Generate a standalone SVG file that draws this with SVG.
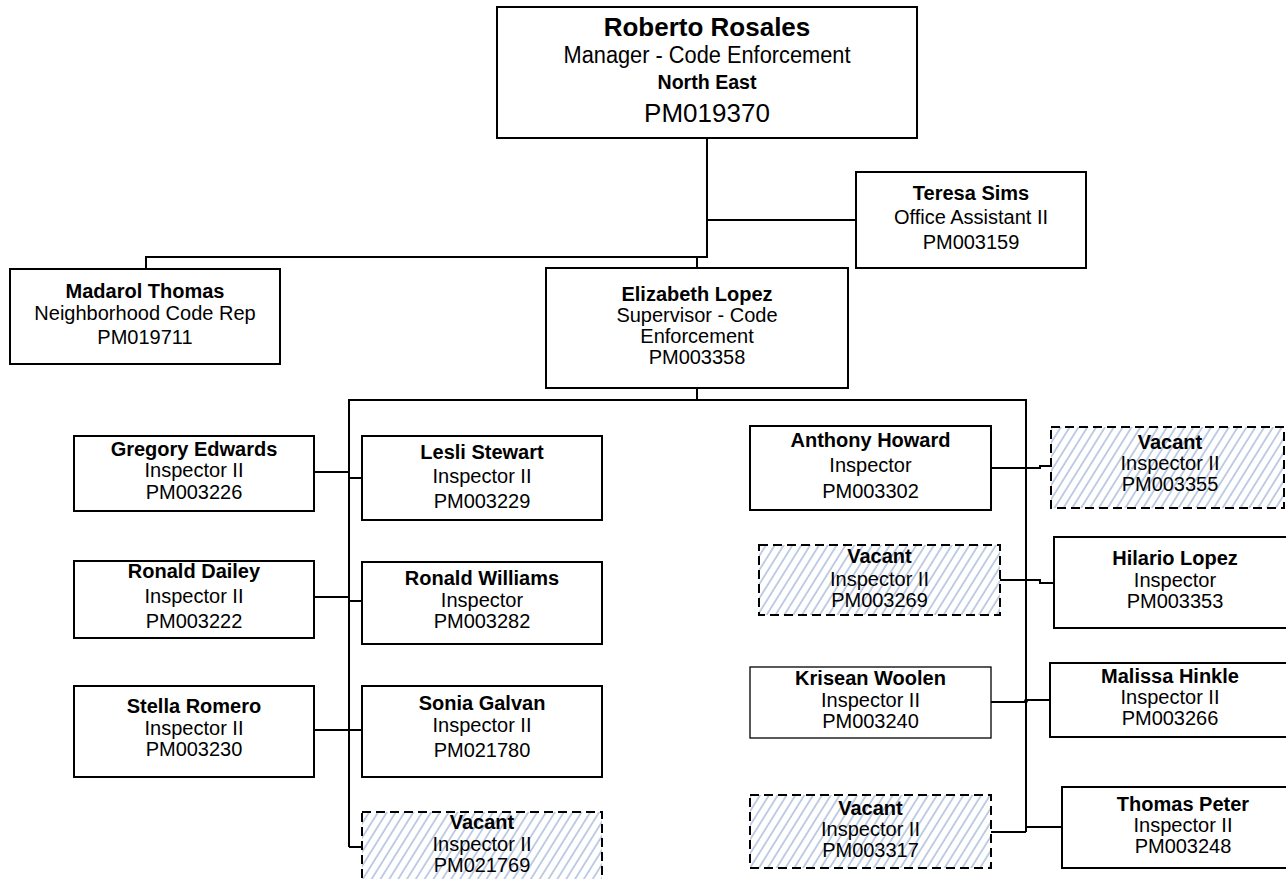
<svg xmlns="http://www.w3.org/2000/svg" width="1286" height="879" viewBox="0 0 1286 879">
<defs>
<pattern id="hatch" patternUnits="userSpaceOnUse" width="7.5" height="7.5" patternTransform="rotate(32)">
<rect width="7.5" height="7.5" fill="#ffffff"/>
<line x1="1" y1="0" x2="1" y2="7.5" stroke="#9fb4d8" stroke-width="1.3"/>
</pattern>
<style>
.box{fill:#ffffff;stroke:#000;stroke-width:2}
.thin{stroke-width:1.3}
.vac{fill:url(#hatch);stroke:#000;stroke-width:2;stroke-dasharray:9 5}
text{font-family:"Liberation Sans",Arial,sans-serif;font-size:20px;fill:#000;text-anchor:middle}
.b{font-weight:bold}
.con{fill:none;stroke:#000;stroke-width:2}
</style>
</defs>
<rect width="1286" height="879" fill="#ffffff"/>
<g id="connectors">
<path class="con" d="M707,138 V257 H146 V269" stroke-width="2.5"/>
<path class="con" d="M707,220 H856"/>
<path class="con" d="M697,257 V268"/>
<path class="con" d="M697,388 V400" stroke-width="3"/>
<path class="con" d="M349,847 V400 H1026 V832"/>
<path class="con" d="M349,847 H362"/>
<path class="con" d="M314,472 H349 M349,478 H362"/>
<path class="con" d="M314,597 H349 M349,601 H362"/>
<path class="con" d="M314,730 H362"/>
<path class="con" d="M991,468 H1040 V466 H1051"/>
<path class="con" d="M1000,580 H1040 V583 H1054"/>
<path class="con" d="M991,702 H1026 M1026,700 H1050"/>
<circle cx="1026" cy="701" r="2" fill="#000"/>
<path class="con" d="M991,832 H1026 M1026,827 H1062"/>
</g>
<g id="roberto">
<rect class="box" x="497" y="7" width="420" height="131"/>
<text x="707" y="36" class="b" style="font-size:26px">Roberto Rosales</text>
<text x="707" y="63" style="font-size:23px" textLength="287" lengthAdjust="spacingAndGlyphs">Manager - Code Enforcement</text>
<text x="707" y="89" class="b" style="font-size:20px" textLength="99" lengthAdjust="spacingAndGlyphs">North East</text>
<text x="707" y="122" style="font-size:26px">PM019370</text>
</g>
<g id="teresa">
<rect class="box" x="856" y="172" width="230" height="96"/>
<text x="971" y="200" class="b">Teresa Sims</text>
<text x="971" y="224">Office Assistant II</text>
<text x="971" y="249">PM003159</text>
</g>
<g id="madarol">
<rect class="box" x="10" y="269" width="270" height="95"/>
<text x="145" y="298" class="b">Madarol Thomas</text>
<text x="145" y="320">Neighborhood Code Rep</text>
<text x="145" y="344">PM019711</text>
</g>
<g id="elizabeth">
<rect class="box" x="546" y="268" width="302" height="120"/>
<text x="697" y="301" class="b">Elizabeth Lopez</text>
<text x="697" y="322">Supervisor - Code</text>
<text x="697" y="343">Enforcement</text>
<text x="697" y="364">PM003358</text>
</g>
<g id="gregory">
<rect class="box" x="74" y="436" width="240" height="75"/>
<text x="194" y="456" class="b">Gregory Edwards</text>
<text x="194" y="477">Inspector II</text>
<text x="194" y="499">PM003226</text>
</g>
<g id="lesli">
<rect class="box" x="362" y="436" width="240" height="84"/>
<text x="482" y="459" class="b">Lesli Stewart</text>
<text x="482" y="483">Inspector II</text>
<text x="482" y="508">PM003229</text>
</g>
<g id="ronald-dailey">
<rect class="box" x="74" y="561" width="240" height="77"/>
<text x="194" y="578" class="b">Ronald Dailey</text>
<text x="194" y="603">Inspector II</text>
<text x="194" y="628">PM003222</text>
</g>
<g id="ronald-williams">
<rect class="box" x="362" y="562" width="240" height="82"/>
<text x="482" y="585" class="b">Ronald Williams</text>
<text x="482" y="607">Inspector</text>
<text x="482" y="628">PM003282</text>
</g>
<g id="stella">
<rect class="box" x="74" y="686" width="240" height="91"/>
<text x="194" y="713" class="b">Stella Romero</text>
<text x="194" y="735">Inspector II</text>
<text x="194" y="756">PM003230</text>
</g>
<g id="sonia">
<rect class="box" x="362" y="686" width="240" height="91"/>
<text x="482" y="710" class="b">Sonia Galvan</text>
<text x="482" y="732">Inspector II</text>
<text x="482" y="757">PM021780</text>
</g>
<g id="vacant-21769">
<rect class="vac" x="362" y="812" width="240" height="80"/>
<text x="482" y="829" class="b">Vacant</text>
<text x="482" y="851">Inspector II</text>
<text x="482" y="872">PM021769</text>
</g>
<g id="anthony">
<rect class="box" x="750" y="426" width="241" height="84"/>
<text x="870.5" y="447" class="b">Anthony Howard</text>
<text x="870.5" y="472">Inspector</text>
<text x="870.5" y="498">PM003302</text>
</g>
<g id="vacant-3355">
<rect class="vac" x="1051" y="427" width="233" height="81"/>
<text x="1170" y="449" class="b">Vacant</text>
<text x="1170" y="470">Inspector II</text>
<text x="1170" y="491">PM003355</text>
</g>
<g id="vacant-3269">
<rect class="vac" x="759" y="545" width="241" height="70"/>
<text x="879.5" y="563" class="b">Vacant</text>
<text x="879.5" y="586">Inspector II</text>
<text x="879.5" y="607">PM003269</text>
</g>
<g id="hilario">
<rect class="box" x="1054" y="537" width="242" height="91"/>
<text x="1175" y="565" class="b">Hilario Lopez</text>
<text x="1175" y="587">Inspector</text>
<text x="1175" y="608">PM003353</text>
</g>
<g id="krisean">
<rect class="box thin" x="750" y="667" width="241" height="71"/>
<text x="870.5" y="685" class="b">Krisean Woolen</text>
<text x="870.5" y="707">Inspector II</text>
<text x="870.5" y="728">PM003240</text>
</g>
<g id="malissa">
<rect class="box" x="1050" y="663" width="246" height="74"/>
<text x="1170" y="683" class="b">Malissa Hinkle</text>
<text x="1170" y="704">Inspector II</text>
<text x="1170" y="725">PM003266</text>
</g>
<g id="vacant-3317">
<rect class="vac" x="750" y="795" width="241" height="73"/>
<text x="870.5" y="815" class="b">Vacant</text>
<text x="870.5" y="836">Inspector II</text>
<text x="870.5" y="857">PM003317</text>
</g>
<g id="thomas">
<rect class="box" x="1062" y="787" width="234" height="81"/>
<text x="1183" y="811" class="b">Thomas Peter</text>
<text x="1183" y="832">Inspector II</text>
<text x="1183" y="853">PM003248</text>
</g>
</svg>
